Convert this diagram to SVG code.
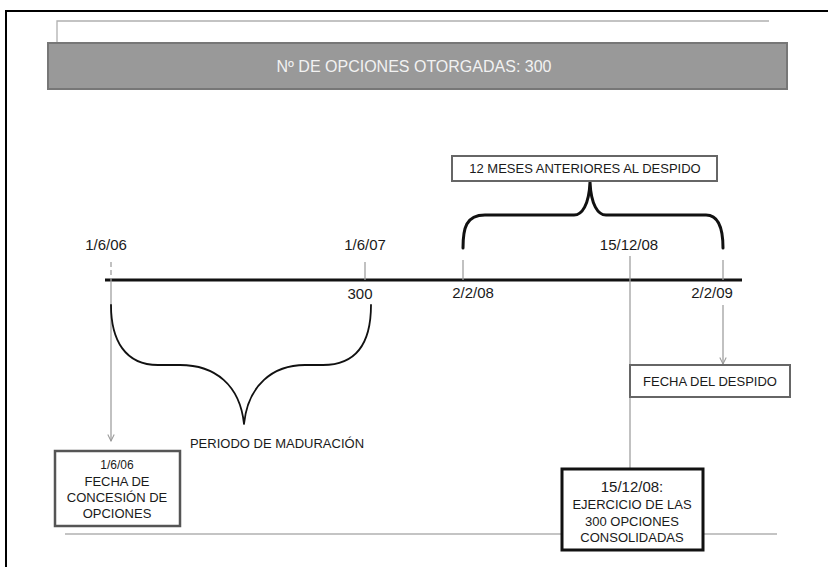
<svg xmlns="http://www.w3.org/2000/svg" width="828" height="567" viewBox="0 0 828 567">
<defs>
<style>
text{font-family:"Liberation Sans",Arial,sans-serif;fill:#1a1a1a;text-anchor:middle}
.date{font-size:15px}
.lbl{font-size:13px}
.thin{stroke:#b0b0b0;stroke-width:1.3;fill:none}
.tick{stroke:#a0a0a0;stroke-width:1.3;fill:none}
.brace{stroke:#111;fill:none;stroke-linecap:round;stroke-linejoin:round}
</style>
<marker id="arr" viewBox="0 0 10 10" refX="9" refY="5" markerWidth="8" markerHeight="8" orient="auto" markerUnits="userSpaceOnUse">
<path d="M1,1 L9,5 L1,9" fill="none" stroke="#999" stroke-width="1.3"/>
</marker>
</defs>
<rect x="0" y="0" width="828" height="567" fill="#fff"/>
<path d="M6,567 V11 H828" fill="none" stroke="#000" stroke-width="2"/>
<path d="M57,43 V21 H769" class="thin"/>
<line x1="65" y1="534" x2="777" y2="534" class="thin" stroke-width="1.6"/>

<g id="title">
<rect x="48" y="43" width="739" height="46" fill="#999" stroke="#777" stroke-width="2"/>
<text x="414" y="72" style="font-size:16px;fill:#f2f2f2">Nº DE OPCIONES OTORGADAS: 300</text>
</g>

<g id="connectors">
<line x1="105" y1="280" x2="742" y2="280" stroke="#111" stroke-width="3"/>
<line x1="111" y1="262" x2="111" y2="283" class="tick" stroke-dasharray="5,3"/>
<line x1="111" y1="283" x2="111" y2="441" class="tick" marker-end="url(#arr)"/>
<line x1="365" y1="262" x2="365" y2="280" class="tick"/>
<line x1="463" y1="260" x2="463" y2="280" class="tick"/>
<line x1="630" y1="256" x2="630" y2="469" class="tick"/>
<line x1="723" y1="260" x2="723" y2="280" class="tick"/>
<line x1="723" y1="305" x2="723" y2="364" class="tick" marker-end="url(#arr)"/>
<path class="brace" stroke-width="3" d="M463,248 C463,228 466,215 485,215 L574,215 C582,215 589,205 590,182 C591,205 598,215 606,215 L706,215 C719,215 723,228 723,248"/>
<path class="brace" stroke-width="1.8" d="M111,305 C111,340 125,365 158,365 L180,365 C215,365 240,385 244,424 C248,385 273,365 305,365 L323,365 C355,365 371,345 371,305"/>
</g>

<g id="labels">
<text class="date" x="106" y="250">1/6/06</text>
<text class="date" x="365" y="250">1/6/07</text>
<text class="date" x="360" y="299">300</text>
<text class="date" x="473" y="298">2/2/08</text>
<text class="date" x="629" y="250">15/12/08</text>
<text class="date" x="712" y="298">2/2/09</text>
<text class="lbl" x="277" y="448">PERIODO DE MADURACIÓN</text>
</g>

<g id="box-meses">
<rect x="452" y="156" width="265" height="25" fill="#fff" stroke="#666" stroke-width="2"/>
<text class="lbl" x="585" y="173">12 MESES  ANTERIORES AL DESPIDO</text>
</g>

<g id="box-concesion">
<rect x="55" y="451" width="125" height="75" fill="#fff" stroke="#555" stroke-width="2.5"/>
<text class="lbl" x="117" y="469" style="font-size:12px">1/6/06</text>
<text class="lbl" x="117" y="486">FECHA DE</text>
<text class="lbl" x="117" y="502">CONCESIÓN DE</text>
<text class="lbl" x="117" y="518">OPCIONES</text>
</g>

<g id="box-despido">
<rect x="630" y="365" width="160" height="32" fill="#fff" stroke="#666" stroke-width="2"/>
<text class="lbl" x="710" y="386">FECHA DEL DESPIDO</text>
</g>

<g id="box-ejercicio">
<rect x="562" y="469" width="141" height="81" fill="#fff" stroke="#111" stroke-width="3"/>
<text x="632" y="492" style="font-size:15px">15/12/08:</text>
<text class="lbl" x="632" y="509">EJERCICIO DE LAS</text>
<text class="lbl" x="632" y="526">300 OPCIONES</text>
<text class="lbl" x="632" y="542">CONSOLIDADAS</text>
</g>
</svg>
